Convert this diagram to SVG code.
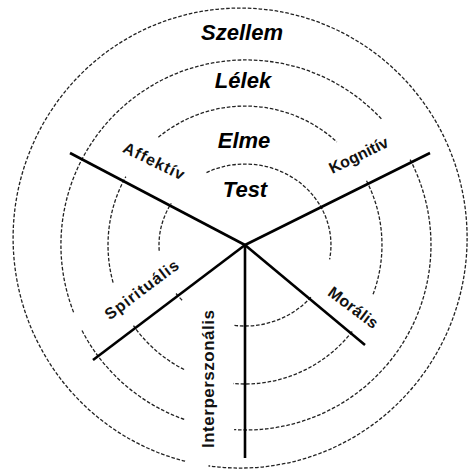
<svg xmlns="http://www.w3.org/2000/svg" width="469" height="470" viewBox="0 0 469 470">
<style>
.ring{fill:none;stroke:#222;stroke-width:1.3;stroke-dasharray:3.6 1.8}
.axis{fill:none;stroke:#000;stroke-width:2.6;stroke-linecap:butt}
.big{font-family:"Liberation Sans",Arial,sans-serif;font-weight:bold;font-style:italic;font-size:22px;fill:#000;text-anchor:middle}
.sm{font-family:"Liberation Sans",Arial,sans-serif;font-weight:bold;font-size:16px;fill:#111;text-anchor:middle}
</style>
<rect width="469" height="470" fill="#fff"/>
<g id="rings">
  <g id="ring-test">
    <path class="ring" d="M206.5 172.6 A86 81 0 0 1 322.6 210.1"/>
    <path class="ring" d="M320.2 205.7 A86 81 0 0 1 329.6 259.3"/>
    <path class="ring" d="M310.9 297.1 A86 81 0 0 1 233.0 325.2"/>
    <path class="ring" d="M159.2 250.7 A86 81 0 0 1 171.3 203.3"/>
    <path class="ring" d="M182.1 300.2 A86 81 0 0 1 175.4 292.6"/>
  </g>
  <g id="ring-elme">
    <path class="ring" d="M158.4 137.3 A137 139 0 0 1 336.8 141.9"/>
    <path class="ring" d="M366.5 180.8 A137 139 0 0 1 372.6 295.5"/>
    <path class="ring" d="M352.2 331.5 A137 139 0 0 1 233.1 383.5"/>
    <path class="ring" d="M184.1 369.5 A137 139 0 0 1 133.5 325.7"/>
    <path class="ring" d="M113.1 282.6 A137 139 0 0 1 125.8 176.6"/>
  </g>
  <g id="ring-lelek">
    <path class="ring" d="M73.6 312.2 A185 185 0 0 1 382.2 119.8"/>
    <path class="ring" d="M410.1 159.6 A185 185 0 0 1 234.1 429.6"/>
    <path class="ring" d="M184.2 419.4 A185 185 0 0 1 81.9 330.4"/>
  </g>
  <g id="ring-szellem">
    <path class="ring" d="M185.1 461.2 A227 230 0 1 1 208.4 465.8"/>
  </g>
</g>
<g id="connectors">
  <line class="axis" x1="70" y1="153" x2="245" y2="245"/>
  <line class="axis" x1="430" y1="153" x2="245" y2="245"/>
  <line class="axis" x1="93" y1="360" x2="245" y2="245"/>
  <line class="axis" x1="365" y1="345" x2="245" y2="245"/>
  <line class="axis" x1="245" y1="244" x2="245" y2="458"/>
</g>
<g id="level-labels">
  <g id="szellem"><text class="big" x="242" y="40">Szellem</text></g>
  <g id="lelek"><text class="big" x="243" y="88">Lélek</text></g>
  <g id="elme"><text class="big" x="244" y="148">Elme</text></g>
  <g id="test"><text class="big" x="245" y="197">Test</text></g>
</g>
<g id="axis-labels">
  <g id="affektiv"><text class="sm" transform="translate(151.5 166) rotate(26)" textLength="66" lengthAdjust="spacing">Affektív</text></g>
  <g id="kognitiv"><text class="sm" transform="translate(361 160) rotate(-26)" textLength="64" lengthAdjust="spacingAndGlyphs">Kognitív</text></g>
  <g id="spiritualis"><text class="sm" transform="translate(145 294) rotate(-37)" textLength="88" lengthAdjust="spacing">Spirituális</text></g>
  <g id="moralis"><text class="sm" transform="translate(350 312) rotate(37)" textLength="58" lengthAdjust="spacing">Morális</text></g>
  <g id="interperszonalis"><text class="sm" style="font-size:17px" transform="translate(214 379) rotate(-90)" textLength="138" lengthAdjust="spacing">Interperszonális</text></g>
</g>
</svg>
